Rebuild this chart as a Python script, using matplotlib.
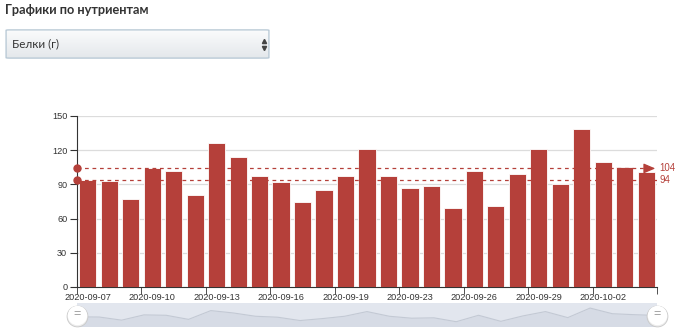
import numpy as np
import matplotlib
matplotlib.use("Agg")
import matplotlib.pyplot as plt
from matplotlib.patches import FancyBboxPatch

# data (protein, g per day)
dates = ["2020-09-07", "2020-09-08", "2020-09-09", "2020-09-10", "2020-09-11",
         "2020-09-12", "2020-09-13", "2020-09-14", "2020-09-15", "2020-09-16",
         "2020-09-17", "2020-09-18", "2020-09-19", "2020-09-20", "2020-09-21",
         "2020-09-23", "2020-09-24", "2020-09-25", "2020-09-26", "2020-09-27",
         "2020-09-28", "2020-09-29", "2020-09-30", "2020-10-01", "2020-10-02",
         "2020-10-03", "2020-10-04"]
protein = [94, 93, 77, 104, 102, 81, 126, 114, 97, 92,
           75, 85, 97, 121, 97, 87, 89, 69, 102, 71,
           99, 121, 90, 139, 110, 105, 101]
norm_high = 104
norm_low = 94
yticks = [0, 30, 60, 90, 120, 150]

title = "Графики по нутриентам"
selected = "Белки (г)"

red = "#b5403a"
axis_col = "#333333"
W, H = 680, 333

plt.rcParams['font.family'] = ['Liberation Sans', 'DejaVu Sans']
fig = plt.figure(figsize=(W / 100, H / 100), dpi=100)

def fbox(x0, y0, x1, y1):
    # pixel box (top-left origin) -> figure fraction rect
    return [x0 / W, 1 - y1 / H, (x1 - x0) / W, (y1 - y0) / H]

########### header and dropdown
fig.text(5 / W, 1 - 10.5 / H, title, family=['Lato', 'DejaVu Sans'],
         fontsize=9.2, fontweight='bold', color='#333333', va='center', ha='left')

dd = fig.add_axes(fbox(5, 29, 270, 59))
dd.set_xlim(0, 1)
dd.set_ylim(0, 1)
dd.axis('off')
grad = np.linspace(0, 1, 64).reshape(-1, 1)
top = np.array([0.985, 0.988, 0.99])
bot = np.array([0.89, 0.905, 0.92])
img = top * (1 - grad[..., None]) + bot * grad[..., None]
im = dd.imshow(img, extent=[0, 1, 0, 1], aspect='auto', origin='upper')
box = FancyBboxPatch((0.004, 0.03), 0.992, 0.94, boxstyle="round,pad=0,rounding_size=0.012",
                     transform=dd.transAxes, facecolor='none', edgecolor='#b4c6d3', lw=0.9)
dd.add_patch(box)
im.set_clip_path(box)
dd.text(0.026, 0.5, selected, family=['Lato', 'DejaVu Sans'], fontsize=8.4,
        color='#333333', va='center', ha='left')
dd.plot([0.976], [0.6], marker='^', ms=3.0, color='#444444', lw=0)
dd.plot([0.976], [0.38], marker='v', ms=3.0, color='#444444', lw=0)

########### bar chart
ax = fig.add_axes(fbox(77, 116, 657, 287))
x = np.arange(len(dates))
ax.bar(x, protein, width=0.8, color=red, edgecolor='white', linewidth=0.6, zorder=3)
ax.set_xlim(-0.5, len(dates) - 0.5)
ax.set_ylim(0, 150)
ax.set_yticks(yticks)
ax.grid(axis='y', color='#dcdcdc', lw=0.9, zorder=0)
for s in ['top', 'right']:
    ax.spines[s].set_visible(False)
ax.spines['left'].set_color(axis_col)
ax.spines['bottom'].set_color(axis_col)
ax.tick_params(axis='y', length=5, color=axis_col, labelsize=6.6, labelcolor='#333333', pad=2)
ax.set_xticks(x[::3])
ax.set_xticklabels(dates[::3])
ax.set_xticks(np.arange(-0.5, len(dates), 3), minor=True)
ax.tick_params(axis='x', which='major', length=0, labelsize=6.6, labelcolor='#333333', pad=4)
ax.tick_params(axis='x', which='minor', length=5, color=axis_col)

# mark lines (norms)
ax.plot([-0.5, len(dates) - 0.9], [norm_high, norm_high], ls=(0, (3, 3)), color=red, lw=0.9, zorder=4)
ax.plot([-0.5, len(dates) - 0.5], [norm_low, norm_low], ls=(0, (3, 3)), color=red, lw=0.9, zorder=4)
ax.plot([-0.5, -0.5], [norm_high, norm_low], 'o', color=red, ms=5, clip_on=False, zorder=5)
ax.annotate("", xy=(len(dates) - 0.45, norm_high), xytext=(len(dates) - 0.95, norm_high),
            arrowprops=dict(arrowstyle='-|>,head_length=0.7,head_width=0.3', color=red, lw=0.9),
            annotation_clip=False, zorder=5)
ax.text(len(dates) - 0.4, norm_high, str(norm_high), color=red, fontsize=6.9, va='center', ha='left')
ax.text(len(dates) - 0.4, norm_low, str(norm_low), color=red, fontsize=6.9, va='center', ha='left')

########### data zoom slider
sl = fig.add_axes(fbox(77, 303, 657, 326))
sl.set_facecolor('#e2e6ee')
xs = np.linspace(0, 1, len(protein))
sl.fill_between(xs, 0, protein, color='#d6dbe5', lw=0)
sl.plot(xs, protein, color='#c3c9d4', lw=0.8)
sl.set_xlim(0, 1)
sl.set_ylim(47, 165)
sl.set_xticks([])
sl.set_yticks([])
for s in sl.spines.values():
    s.set_visible(False)
for hx in [0.0, 1.0]:
    sl.plot([hx], [0.45], marker='o', ms=15, mfc='#ececec', mec='#c8c8c8', mew=0.6,
            transform=sl.transAxes, clip_on=False, zorder=6)
    sl.plot([hx], [0.5], marker='o', ms=14, mfc='white', mec='none',
            transform=sl.transAxes, clip_on=False, zorder=7)
    sl.text(hx, 0.5, "=", transform=sl.transAxes, ha='center', va='center',
            fontsize=9, color='#9a9a9a', zorder=8)

fig.savefig("out.png", dpi=100)
